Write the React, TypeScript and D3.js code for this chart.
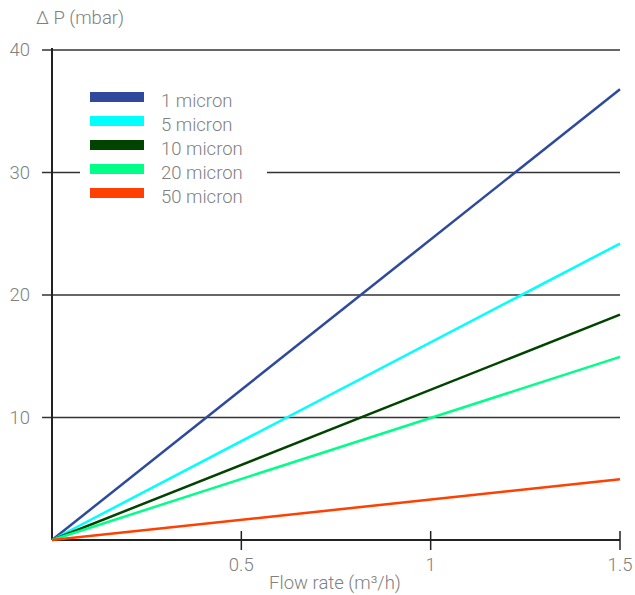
import React from "react";
import * as d3 from "d3";

const series = ["1 micron", "5 micron", "10 micron", "20 micron", "50 micron"];
const colors = ["#2f4a9c", "#00ffff", "#004400", "#00ff88", "#ff4000"];
const flowPoints = [0, 1.5];
const dpValues = [
  [0, 36.8],
  [0, 24.2],
  [0, 18.4],
  [0, 14.95],
  [0, 4.95],
];
const xTicks = [0.5, 1, 1.5];
const yTicks = [10, 20, 30, 40];

const W = 635;
const H = 595;

export default function App() {
  const x = d3.scaleLinear().domain([0, 1.5]).range([52, 620]);
  const y = d3.scaleLinear().domain([0, 40]).range([540, 50]);
  const line = d3
    .line<[number, number]>()
    .x((d) => x(d[0]))
    .y((d) => y(d[1]));
  const font = "Roboto, 'Noto Sans', sans-serif";
  const gray = "#808080";
  const fs = 18.5;

  return (
    <svg
      width={W}
      height={H}
      style={{ position: "absolute", left: 0, top: 0, background: "#fff" }}
      fontFamily={font}
    >
      {yTicks.map((t) => (
        <line
          key={"g" + t}
          x1={42}
          x2={620}
          y1={y(t)}
          y2={y(t)}
          stroke="#333"
          strokeWidth={1.5}
        />
      ))}
      {yTicks.map((t) => (
        <text
          key={"yl" + t}
          x={30}
          y={y(t)}
          dy="0.35em"
          textAnchor="end"
          fontSize={fs}
          fontWeight={300}
          fill={gray}
        >
          {t}
        </text>
      ))}
      <line x1={52} x2={52} y1={48} y2={540} stroke="#222" strokeWidth={2} />
      <line x1={52} x2={620} y1={540} y2={540} stroke="#222" strokeWidth={2} />
      {xTicks.map((t) => (
        <g key={"xt" + t}>
          <line x1={x(t)} x2={x(t)} y1={531} y2={550} stroke="#222" strokeWidth={1.5} />
          <text
            x={x(t)}
            y={565}
            dy="0.35em"
            textAnchor="middle"
            fontSize={fs}
            fontWeight={300}
            fill={gray}
          >
            {t}
          </text>
        </g>
      ))}
      {series.map((s, i) => (
        <path
          key={s}
          d={line(flowPoints.map((f, j) => [f, dpValues[i][j]] as [number, number])) || ""}
          fill="none"
          stroke={colors[i]}
          strokeWidth={2.5}
        />
      ))}
      <rect x={80} y={84} width={187} height={124} fill="#fff" />
      {series.map((s, i) => (
        <g key={"lg" + s}>
          <rect x={90} y={92 + i * 24} width={54} height={10} fill={colors[i]} />
          <text
            x={161}
            y={101 + i * 24}
            dy="0.35em"
            fontSize={fs}
            fontWeight={300}
            fill={gray}
          >
            {s}
          </text>
        </g>
      ))}
      <text x={36} y={18} dy="0.35em" fontSize={fs} fontWeight={300} fill={gray}>
        Δ P (mbar)
      </text>
      <text
        x={335}
        y={583}
        dy="0.35em"
        textAnchor="middle"
        fontSize={fs}
        fontWeight={300}
        fill={gray}
      >
        Flow rate (m³/h)
      </text>
    </svg>
  );
}
